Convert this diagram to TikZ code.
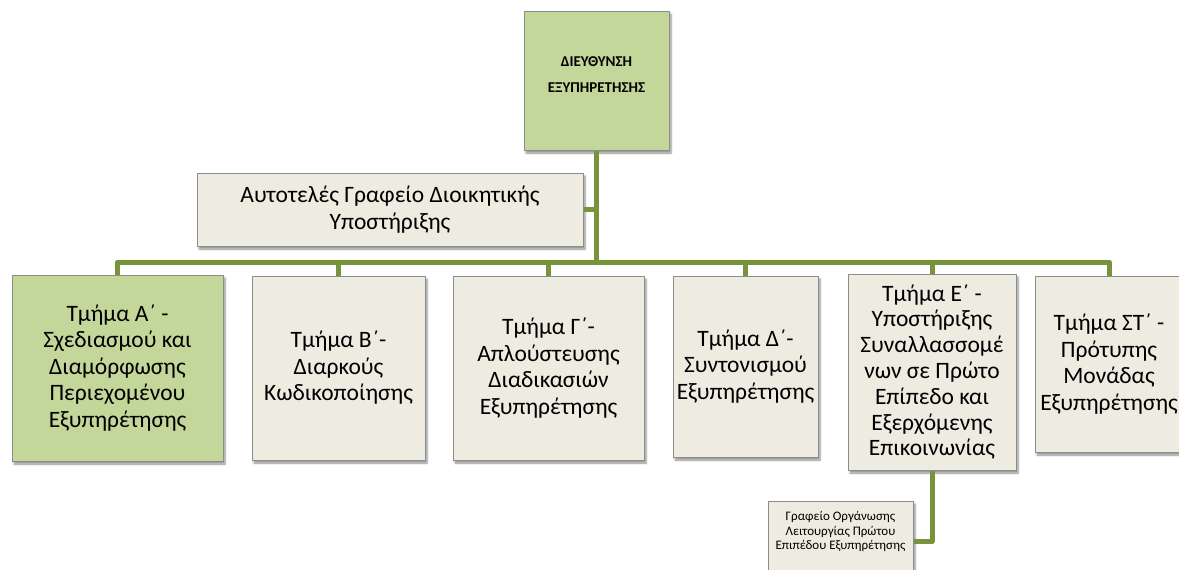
\documentclass[tikz,border=0pt]{standalone}
\usepackage{fontspec}
\setmainfont{Carlito}
\usetikzlibrary{shadows.blur}
\definecolor{olive}{HTML}{77933C}
\definecolor{boxgreen}{HTML}{C4D79B}
\definecolor{boxbeige}{HTML}{EEECE1}
\definecolor{boxline}{HTML}{8C8C8C}
\tikzset{
  conn/.style={draw=olive, line width=5pt, line join=round},
  orgbox/.style={draw=boxline, line width=1pt, inner sep=0pt, align=center,
    blur shadow={shadow xshift=2pt, shadow yshift=-3pt, shadow blur steps=6, shadow blur radius=2pt, shadow opacity=45},
    font=\fontsize{23.5}{26.5}\selectfont},
  greenbox/.style={orgbox, fill=boxgreen},
  beigebox/.style={orgbox, fill=boxbeige},
}
\begin{document}
\begin{tikzpicture}[x=1pt,y=-1pt]
\useasboundingbox (0,0) rectangle (1179,570);
\node[greenbox, minimum width=145pt, minimum height=139pt] (top) at (596.5,80.5) {};
\node[font=\bfseries\fontsize{15}{26}\selectfont, align=center, inner sep=0pt] (toptext) at (596.5,75) {ΔΙΕΥΘΥΝΣΗ\\ΕΞΥΠΗΡΕΤΗΣΗΣ};
\coordinate (bus) at (596.5,262);
\node[beigebox, minimum width=386pt, minimum height=73pt] (admin) at (390,209.5) {Αυτοτελές Γραφείο Διοικητικής\\Υποστήριξης};
\node[greenbox, minimum width=211pt, minimum height=186pt] (a) at (117.5,368) {Τμήμα Α΄ -\\Σχεδιασμού και\\Διαμόρφωσης\\Περιεχομένου\\Εξυπηρέτησης};
\node[beigebox, minimum width=173pt, minimum height=184pt] (b) at (338.5,368) {Τμήμα Β΄-\\Διαρκούς\\Κωδικοποίησης};
\node[beigebox, minimum width=191pt, minimum height=184pt] (g) at (548.5,368) {Τμήμα Γ΄-\\Απλούστευσης\\Διαδικασιών\\Εξυπηρέτησης};
\node[beigebox, minimum width=145pt, minimum height=181pt] (d) at (745.5,366.5) {Τμήμα Δ΄-\\Συντονισμού\\Εξυπηρέτησης};
\node[beigebox, minimum width=168pt, minimum height=196pt, font=\fontsize{23.5}{25.8}\selectfont] (e) at (932,372) {Τμήμα Ε΄ -\\Υποστήριξης\\Συναλλασσομέ\\νων σε Πρώτο\\Επίπεδο και\\Εξερχόμενης\\Επικοινωνίας};
\node[beigebox, minimum width=148pt, minimum height=176pt] (st) at (1109,364) {Τμήμα ΣΤ΄ -\\Πρότυπης\\Μονάδας\\Εξυπηρέτησης};
\node[beigebox, minimum width=145pt, minimum height=80pt, font=\fontsize{13}{14.5}\selectfont, text depth=0pt] (small) at (840.5,541) {Γραφείο Οργάνωσης\\Λειτουργίας Πρώτου\\Επιπέδου Εξυπηρέτησης\\[6pt]};
\draw[conn] (top.south) -- (bus);
\draw[conn] (admin.east) -- (admin.east -| bus);
\draw[conn] (a.north) |- (bus) -| (st.north);
\draw[conn] (b.north) -- (b.north |- bus);
\draw[conn] (g.north) -- (g.north |- bus);
\draw[conn] (d.north) -- (d.north |- bus);
\draw[conn] (e.north) -- (e.north |- bus);
\draw[conn] (e.south) |- (small.east);
\end{tikzpicture}
\end{document}
